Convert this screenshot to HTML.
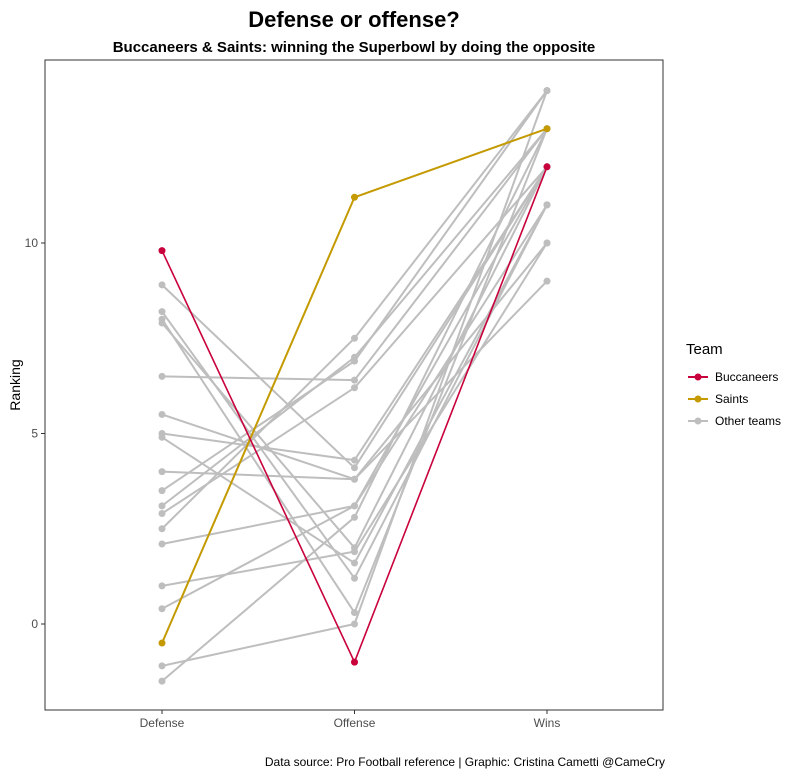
<!DOCTYPE html>
<html><head><meta charset="utf-8"><style>
body{margin:0;background:#fff;font-family:"Liberation Sans",Arial,sans-serif;}
svg text{font-family:"Liberation Sans",Arial,sans-serif;}
</style></head><body>
<svg id="chart" width="798" height="775">
<rect width="798" height="775" fill="#fff"/>
<text x="354" y="27" text-anchor="middle" font-size="22" font-weight="bold" fill="#000">Defense or offense?</text>
<text x="354" y="52" text-anchor="middle" font-size="15" font-weight="bold" fill="#000">Buccaneers &amp; Saints: winning the Superbowl by doing the opposite</text>
<rect x="45" y="60" width="618" height="650" fill="none" stroke="#333" stroke-width="1"/>
<g id="axes"></g>
<g id="lines"></g>
<text transform="translate(20,385) rotate(-90)" text-anchor="middle" font-size="14" fill="#000">Ranking</text>
<g>
<text x="686" y="354" font-size="15" fill="#000">Team</text>
<g><line x1="688" y1="377" x2="708" y2="377" stroke="#c8003c" stroke-width="2"/><circle cx="698" cy="377" r="3.5" fill="#c8003c"/><text x="715" y="381" font-size="12">Buccaneers</text></g>
<g><line x1="688" y1="399" x2="708" y2="399" stroke="#c49a00" stroke-width="2"/><circle cx="698" cy="399" r="3.5" fill="#c49a00"/><text x="715" y="403" font-size="12">Saints</text></g>
<g><line x1="688" y1="421" x2="708" y2="421" stroke="#bebebe" stroke-width="2"/><circle cx="698" cy="421" r="3.5" fill="#bebebe"/><text x="715" y="425" font-size="12">Other teams</text></g>
</g>
<text x="665" y="766" text-anchor="end" font-size="12" fill="#000">Data source: Pro Football reference | Graphic: Cristina Cametti @CameCry</text>
</svg>
<script>
const categories = ["Defense","Offense","Wins"];
const yTicks = [0,5,10];
const otherDefense = [8.9,8.2,8.0,7.9,6.5,5.5,5.0,4.9,4.0,3.5,3.1,2.9,2.5,2.1,1.0,0.4,-1.1,-1.5];
const otherOffense = [4.1,1.2,0.3,2.0,6.4,3.8,4.3,1.6,3.8,6.9,7.0,6.2,7.5,3.1,1.9,3.1,0.0,2.8];
const otherWins = [12,11,13,12,13,10,12,11,9,14,13,12,14,12,10,11,14,13];
const buccaneers = [9.8,-1.0,12];
const saints = [-0.5,11.2,13];
const ns="http://www.w3.org/2000/svg";
const xPos = i => 162 + i*192.5;
const yPos = v => 624 - v*38.1;
const axes=document.getElementById('axes');
const lines=document.getElementById('lines');
function mk(tag,attrs,parent){const e=document.createElementNS(ns,tag);for(const k in attrs)e.setAttribute(k,attrs[k]);parent.appendChild(e);return e;}
yTicks.forEach(t=>{
  const l=mk('line',{x1:41,x2:45,y1:yPos(t),y2:yPos(t),stroke:'#333'},axes);
  
  
  const tx=mk('text',{x:38,y:yPos(t)+4,'text-anchor':'end','font-size':12,fill:'#4d4d4d'},axes);
  tx.textContent=t;
  
  
});
categories.forEach((c,i)=>{
  const l=mk('line',{x1:xPos(i),x2:xPos(i),y1:710,y2:714,stroke:'#333'},axes);
  
  
  const tx=mk('text',{x:xPos(i),y:727,'text-anchor':'middle','font-size':12,fill:'#4d4d4d'},axes);
  tx.textContent=c;
  
  
});
function team(vals,color,name,w){
  const pts=vals.map((v,i)=>xPos(i)+','+yPos(v)).join(' ');
  const pl=mk('polyline',{points:pts,fill:'none',stroke:color,'stroke-width':w},lines);
  
  
  vals.forEach((v,i)=>{
    const c=mk('circle',{cx:xPos(i),cy:yPos(v),r:3.5,fill:color},lines);
    
    
  });
}
otherDefense.forEach((d,i)=>team([d,otherOffense[i],otherWins[i]],'#bebebe','other-team',2));
team(saints,'#c49a00','saints',2);
team(buccaneers,'#c8003c','buccaneers',1.6);
</script>
</body></html>
